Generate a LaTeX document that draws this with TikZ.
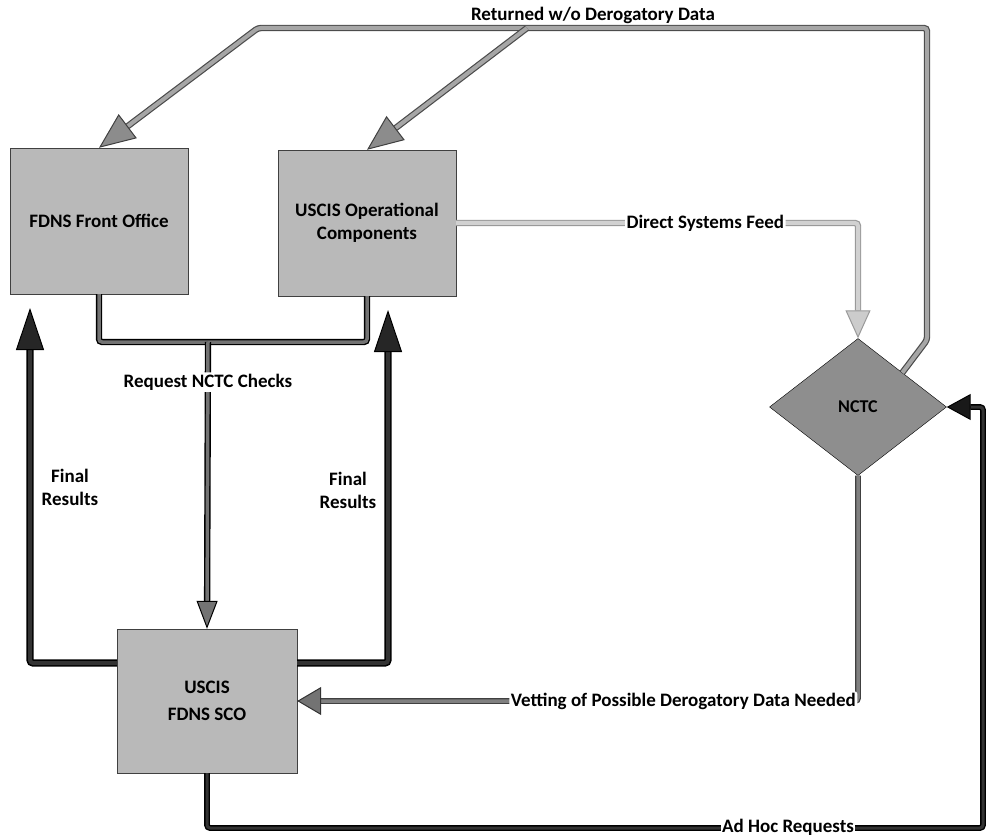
\documentclass[tikz,border=0pt]{standalone}
\usepackage{fontspec}
\setmainfont{Carlito}
\usetikzlibrary{arrows.meta,shapes.geometric}
\definecolor{boxgray}{HTML}{B9B9B9}
\definecolor{nctcgray}{HTML}{8E8E8E}
\begin{document}
\begin{tikzpicture}[x=1pt,y=-1pt,
  lblfont/.style={font=\fontsize{19}{23}\selectfont\bfseries},
  box/.style={rectangle, draw=black!75, fill=boxgray, minimum width=178pt, minimum height=146pt, align=center, lblfont},
  lbl/.style={fill=white, inner sep=1.5pt, align=center, lblfont},
  retline/.style={draw=black!70, double=black!35, double distance=4pt, line width=1.2pt, rounded corners=3pt},
  rettip/.style={-{Triangle[length=36pt,width=30pt,fill=black!45,color=black!75,line width=1pt]}},
  feedline/.style={draw=black!40, double=black!18, double distance=4pt, line width=1.2pt, rounded corners=3pt,
    -{Triangle[length=28pt,width=25pt,fill=black!20,color=black!40,line width=1pt]}},
  reqline/.style={draw=black, double=black!55, double distance=3.5pt, line width=1.4pt, rounded corners=3pt},
  reqtip/.style={-{Triangle[length=28pt,width=21pt,fill=black!55,color=black,line width=1pt]}},
  finline/.style={draw=black, double=black!80, double distance=4pt, line width=1.6pt, rounded corners=3pt,
    -{Triangle[length=42pt,width=28pt,fill=black!85,color=black,line width=1pt]}},
  vetline/.style={draw=black!75, double=black!50, double distance=3.5pt, line width=1.2pt, rounded corners=3pt,
    -{Triangle[length=24pt,width=28pt,fill=black!55,color=black!80,line width=1pt]}},
  adhocline/.style={draw=black, double=black!80, double distance=3pt, line width=1.4pt, rounded corners=3pt,
    -{Triangle[length=24pt,width=26pt,fill=black!90,color=black,line width=1pt]}}]
\useasboundingbox (0,0) rectangle (986,837);

% boxes
\node[box] (fdnsfo) at (99,221) {FDNS Front Office};
\node[box] (uscisop) at (367,223) {USCIS Operational\\Components};
\node[box, minimum width=180pt, minimum height=144pt, font=\fontsize{19}{27}\selectfont\bfseries] (sco) at (207,701) {USCIS\\FDNS SCO};
\node[diamond, draw=black, fill=nctcgray, minimum width=177pt, minimum height=137pt, inner sep=0pt,
  font=\fontsize{18}{20}\selectfont\bfseries] (nctc) at (858,407) {NCTC};

% bends
\coordinate (retup) at (927,340);
\coordinate (rettop) at (927,28);
\coordinate (retl) at (258,28);
\coordinate (retm) at (527,28);
\coordinate (rq) at (208,342);
\coordinate (frl) at (30,308);
\coordinate (frr) at (388,310);
\coordinate (ahc) at (983,828);

% returned w/o derogatory data
\draw[retline, rettip] (nctc.north east) -- (retup) -- (rettop) -- (retl) -- (fdnsfo.north);
\draw[retline, rettip] (retm) -- (uscisop.north);
\node[lblfont] (retlbl) at (593,15) {Returned w/o Derogatory Data};

% direct systems feed
\draw[feedline] (uscisop.east) -| node[lbl, pos=0.31] {Direct Systems Feed} (nctc.north);

% request nctc checks
\draw[reqline] (fdnsfo.south) |- (rq) -| (uscisop.south);
\draw[reqline, reqtip] (rq) -- node[lbl, pos=0.14] {Request NCTC Checks} (sco.north);

% final results
\draw[finline] ([yshift=38pt]sco.west) -| (frl);
\draw[finline] ([yshift=38pt]sco.east) -| (frr);
\node[lblfont, align=center] (finl) at (70,487) {Final\\Results};
\node[lblfont, align=center] (finr) at (348,490) {Final\\Results};

% vetting
\draw[vetline] (nctc.south) |- node[lbl, anchor=east, pos=0.5] {Vetting of Possible Derogatory Data Needed} (sco.east);

% ad hoc requests
\draw[adhocline] (sco.south) |- (ahc) |- (nctc.east);
\node[lbl] (ahlbl) at (788,827) {Ad Hoc Requests};
\end{tikzpicture}
\end{document}
